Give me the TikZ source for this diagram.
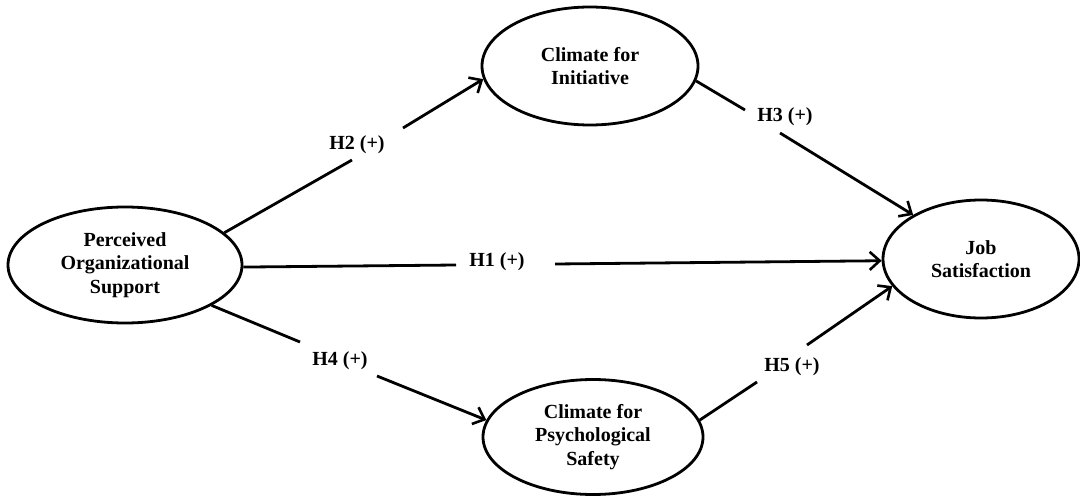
\documentclass[tikz,border=0pt]{standalone}
\usepackage{fontspec}
\setmainfont{Liberation Serif}
\usetikzlibrary{shapes.geometric,arrows.meta}
\begin{document}
\begin{tikzpicture}[x=0.5pt,y=-0.5pt,
  construct/.style={draw,ellipse,line width=1.4pt,inner sep=0pt,align=center,
    font=\fontsize{10pt}{11.8pt}\selectfont\bfseries},
  hyp/.style={font=\fontsize{10pt}{12pt}\selectfont\bfseries,inner sep=1pt},
  link/.style={line width=1.4pt},
  arr/.style={line width=1.4pt,-{Straight Barb[length=5pt,width=9pt,line width=1.3pt]}}]
\useasboundingbox (0,0) rectangle (1080,497);
% constructs
\node[construct,minimum width=117pt,minimum height=58pt] (POS) at (125,265) {Perceived\\Organizational\\Support};
\node[construct,minimum width=108pt,minimum height=59pt] (CI) at (590,66) {Climate for\\Initiative};
\node[construct,minimum width=110pt,minimum height=57.5pt] (CPS) at (593,437) {Climate for\\Psychological\\Safety};
\node[construct,minimum width=98pt,minimum height=59pt] (JS) at (981,259) {Job\\Satisfaction};
% labels
\node[hyp] (H2) at (357,145) {H2 (+)};
\node[hyp] (H3) at (785,117) {H3 (+)};
\node[hyp] (H1) at (497,262) {H1 (+)};
\node[hyp] (H4) at (340,361) {H4 (+)};
\node[hyp] (H5) at (792,367) {H5 (+)};
% gap ends
\coordinate (h2a) at (352,160);
\coordinate (h2b) at (403,128);
\coordinate (h3a) at (745,110);
\coordinate (h3b) at (780,133);
\coordinate (h1a) at (456,265);
\coordinate (h1b) at (555,264);
\coordinate (h4a) at (300,342);
\coordinate (h4b) at (377,376);
\coordinate (h5a) at (757,382);
\coordinate (h5b) at (807,345);
% connectors
\draw[link] (POS.18) -- (h2a);
\draw[arr] (h2b) -- (CI.187);
\draw[link] (CI.-8) -- (h3a);
\draw[arr] (h3b) -- (JS.147);
\draw[link] (POS.-1) -- (h1a);
\draw[arr] (h1b) -- (JS.181);
\draw[link] (POS.-25) -- (h4a);
\draw[arr] (h4b) -- (CPS.171);
\draw[link] (CPS.9) -- (h5a);
\draw[arr] (h5b) -- (JS.197);
\end{tikzpicture}
\end{document}
